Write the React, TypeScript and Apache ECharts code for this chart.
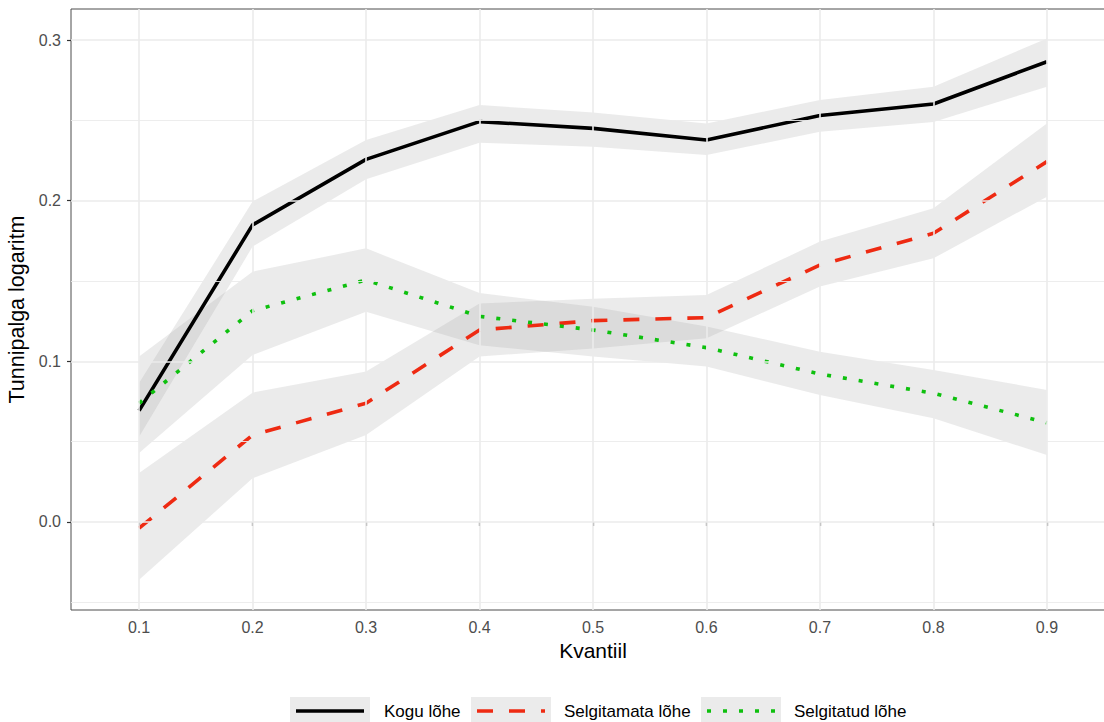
import React, { useEffect, useRef } from "react";
import * as echarts from "echarts";

const quantiles = [0.1, 0.2, 0.3, 0.4, 0.5, 0.6, 0.7, 0.8, 0.9];
const tickLabelsX = [0.1, 0.2, 0.3, 0.4, 0.5, 0.6, 0.7, 0.8, 0.9];
const tickLabelsY = [0.0, 0.1, 0.2, 0.3];
const minorY = [-0.05, 0.05, 0.15, 0.25];

const kogu = [0.0693, 0.1849, 0.2257, 0.2492, 0.245, 0.2378, 0.253, 0.2602, 0.2865];
const koguLow = [0.053, 0.1714, 0.2133, 0.2361, 0.2336, 0.2284, 0.2429, 0.249, 0.2709];
const koguHigh = [0.0865, 0.1994, 0.2377, 0.2595, 0.2548, 0.248, 0.2627, 0.2709, 0.301];

const selgitamata = [-0.0039, 0.0541, 0.0739, 0.1195, 0.1253, 0.1272, 0.16, 0.1797, 0.2243];
const selgitamataLow = [-0.036, 0.0272, 0.0541, 0.103, 0.108, 0.1143, 0.1465, 0.1641, 0.2025];
const selgitamataHigh = [0.0305, 0.0805, 0.0936, 0.136, 0.139, 0.1413, 0.1745, 0.1952, 0.2481];

const selgitatud = [0.0739, 0.1315, 0.1506, 0.128, 0.1195, 0.1085, 0.0921, 0.0801, 0.0618];
const selgitatudLow = [0.043, 0.1039, 0.1309, 0.11, 0.103, 0.0967, 0.079, 0.0645, 0.0417];
const selgitatudHigh = [0.103, 0.1558, 0.1703, 0.1425, 0.134, 0.1216, 0.106, 0.0946, 0.0822];

const seriesNames = ["Kogu lõhe", "Selgitamata lõhe", "Selgitatud lõhe"];

const FONT = "'Liberation Sans', Arial, Helvetica, sans-serif";
const RED = "#ee2a12";
const GREEN = "#0ec00e";
const LW = 3.6;

function pairs(vals: number[]) {
  return quantiles.map((q, i) => [q, vals[i]]);
}

function band(id: string, low: number[], high: number[]) {
  const rows = quantiles.map((q, i) => [q, low[i], high[i]]);
  return {
    type: "custom",
    id: id + "_band",
    data: rows,
    encode: { x: 0, y: [1, 2] },
    silent: true,
    clip: true,
    z: 2,
    renderItem: (params: any, api: any) => {
      if (params.dataIndex !== 0) return null;
      const upper = rows.map((r) => api.coord([r[0], r[2]]));
      const lower = rows.map((r) => api.coord([r[0], r[1]])).reverse();
      return {
        type: "polygon",
        shape: { points: upper.concat(lower) },
        style: { fill: "rgba(153,153,153,0.2)", stroke: "none" },
      };
    },
  };
}

function lineSeries(name: string, vals: number[], color: string, type: any) {
  return {
    type: "line",
    name,
    data: pairs(vals),
    symbol: "none",
    showSymbol: false,
    silent: true,
    emphasis: { disabled: true },
    lineStyle: { color, width: LW, type },
    z: 4,
  };
}

export default function App() {
  const ref = useRef<HTMLDivElement>(null);
  useEffect(() => {
    if (!ref.current) return;
    const chart = echarts.init(ref.current, undefined, { renderer: "svg" });

    const gridLines: any[] = [];
    tickLabelsY.forEach((v) =>
      gridLines.push({ yAxis: v, lineStyle: { color: "#ebebeb", width: 1.6, type: "solid" } })
    );
    minorY.forEach((v) =>
      gridLines.push({ yAxis: v, lineStyle: { color: "#ebebeb", width: 0.9, type: "solid" } })
    );
    tickLabelsX.forEach((v) =>
      gridLines.push({ xAxis: v, lineStyle: { color: "#ebebeb", width: 1.6, type: "solid" } })
    );

    const option: any = {
      animation: false,
      backgroundColor: "#ffffff",
      textStyle: { fontFamily: FONT },
      grid: {
        left: 71,
        top: 9,
        width: 1044,
        bottom: 112,
        show: true,
        borderColor: "#4d4d4d",
        borderWidth: 1,
        backgroundColor: "transparent",
        containLabel: false,
        outerBoundsMode: "none",
      },
      xAxis: {
        type: "value",
        min: 0.04,
        max: 0.96,
        name: "Kvantiil",
        nameLocation: "middle",
        nameGap: 28,
        nameTextStyle: { fontSize: 21, color: "#000", fontFamily: FONT, verticalAlign: "top" },
        axisLine: { show: false },
        splitLine: { show: false },
        axisTick: {
          show: true,
          customValues: tickLabelsX,
          length: 4,
          lineStyle: { color: "#333", width: 1.2 },
        },
        axisLabel: {
          customValues: tickLabelsX,
          formatter: (v: number) => v.toFixed(1),
          fontSize: 16,
          color: "#4d4d4d",
          margin: 9,
          fontFamily: FONT,
        },
      },
      yAxis: {
        type: "value",
        min: -0.0548,
        max: 0.3193,
        name: "Tunnipalga logaritm",
        nameLocation: "middle",
        nameGap: 32,
        nameTextStyle: { fontSize: 21.5, color: "#000", fontFamily: FONT },
        axisLine: { show: false },
        splitLine: { show: false },
        axisTick: {
          show: true,
          customValues: tickLabelsY,
          length: 4,
          lineStyle: { color: "#333", width: 1.2 },
        },
        axisLabel: {
          customValues: tickLabelsY,
          formatter: (v: number) => v.toFixed(1),
          fontSize: 16,
          color: "#4d4d4d",
          margin: 10,
          fontFamily: FONT,
        },
      },
      series: [
        {
          type: "line",
          id: "gridlines",
          data: [],
          silent: true,
          z: 0,
          markLine: {
            silent: true,
            symbol: ["none", "none"],
            label: { show: false },
            animation: false,
            data: gridLines,
          },
        },
        band("k", koguLow, koguHigh),
        band("sm", selgitamataLow, selgitamataHigh),
        band("st", selgitatudLow, selgitatudHigh),
        lineSeries(seriesNames[0], kogu, "#000", "solid"),
        lineSeries(seriesNames[1], selgitamata, RED, [16, 16]),
        lineSeries(seriesNames[2], selgitatud, GREEN, [4, 12]),
      ],
      graphic: [
        { type: "rect", shape: { x: 290, y: 697, width: 80, height: 34 }, style: { fill: "#ebebeb" } },
        { type: "line", shape: { x1: 296, y1: 711, x2: 364, y2: 711 }, style: { stroke: "#000", lineWidth: LW } },
        { type: "text", x: 384, y: 711, style: { text: seriesNames[0], fontSize: 17, fontFamily: FONT, fill: "#000", verticalAlign: "middle", align: "left" } },
        { type: "rect", shape: { x: 471, y: 697, width: 80, height: 34 }, style: { fill: "#ebebeb" } },
        { type: "line", shape: { x1: 477, y1: 711, x2: 545, y2: 711 }, style: { stroke: RED, lineWidth: LW, lineDash: [16, 16] } },
        { type: "text", x: 564, y: 711, style: { text: seriesNames[1], fontSize: 17, fontFamily: FONT, fill: "#000", verticalAlign: "middle", align: "left" } },
        { type: "rect", shape: { x: 701, y: 697, width: 80, height: 34 }, style: { fill: "#ebebeb" } },
        { type: "line", shape: { x1: 707, y1: 711, x2: 775, y2: 711 }, style: { stroke: GREEN, lineWidth: LW, lineDash: [4, 12] } },
        { type: "text", x: 794, y: 711, style: { text: seriesNames[2], fontSize: 17, fontFamily: FONT, fill: "#000", verticalAlign: "middle", align: "left" } },
      ],
    };
    chart.setOption(option);
    return () => chart.dispose();
  }, []);
  return (
    <div
      ref={ref}
      style={{ position: "fixed", left: 0, top: 0, width: 1104, height: 722, background: "#fff" }}
    />
  );
}
